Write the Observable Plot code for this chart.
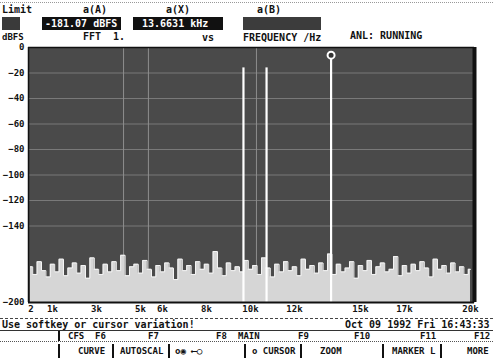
<!DOCTYPE html>
<html>
<head>
<meta charset="utf-8">
<script src="https://cdn.jsdelivr.net/npm/d3@7"></script>
<script src="https://cdn.jsdelivr.net/npm/@observablehq/plot@0.6"></script>
<style>
  html, body { margin: 0; padding: 0; background: #fff; }
  #wrap { position: relative; width: 493px; height: 362px; overflow: hidden; background: #fff;
          font-family: "DejaVu Sans Mono", monospace; font-weight: bold; font-size: 10px; color: #111; }
  .t { position: absolute; white-space: pre; line-height: 12px; }
  .s { font-size: 9px; }
  .box { position: absolute; height: 13px; line-height: 13px; color: #fff; white-space: pre; padding-left: 3px; box-sizing: border-box; }
  .hl { position: absolute; left: 0; width: 493px; height: 0; }
  .vb { position: absolute; width: 0; border-left: 2px solid #111; }
  #plot { position: absolute; left: 0; top: 40px; }
</style>
</head>
<body>
<div id="wrap">
  <div class="hl" style="top:2px;border-top:1px dotted #999;"></div>
  <div class="t" style="left:2px;top:4px;">Limit</div>
  <div class="t" style="left:83px;top:4px;">a(A)</div>
  <div class="t" style="left:166px;top:4px;">a(X)</div>
  <div class="t" style="left:257px;top:4px;">a(B)</div>
  <div class="box" style="left:2px;top:17px;width:18px;background:#3a3a3a;"></div>
  <div class="box" style="left:42px;top:17px;width:79px;background:#111;">-181.07 dBFS</div>
  <div class="box" style="left:133px;top:17px;width:90px;background:#111;"> 13.6631 kHz</div>
  <div class="box" style="left:243px;top:17px;width:78px;background:#3c3c3c;"></div>
  <div class="t s" style="left:2px;top:31px;">dBFS</div>
  <div class="t" style="left:83px;top:31px;">FFT  1.</div>
  <div class="t" style="left:202px;top:32px;">vs</div>
  <div class="t" style="left:243px;top:32px;">FREQUENCY /Hz</div>
  <div class="t" style="left:350px;top:30px;">ANL: RUNNING</div>

  <div id="plot"></div>

  <div class="hl" style="top:318px;border-top:1px dashed #444;"></div>
  <div class="t" style="left:2px;top:319px;">Use softkey or cursor variation!</div>
  <div class="t" style="left:345px;top:319px;">Oct 09 1992 Fri 16:43:33</div>
  <div class="hl" style="top:330px;border-top:1px solid #333;"></div>
  <div class="vb" style="left:58px;top:331px;height:10px;"></div>
  <div class="t s" style="left:68px;top:330px;">CFS  F6</div>
  <div class="t s" style="left:148px;top:330px;">F7</div>
  <div class="t s" style="left:216px;top:330px;">F8</div>
  <div class="t s" style="left:238px;top:330px;">MAIN</div>
  <div class="t s" style="left:298px;top:330px;">F9</div>
  <div class="t s" style="left:354px;top:330px;">F10</div>
  <div class="t s" style="left:420px;top:330px;">F11</div>
  <div class="t s" style="left:474px;top:330px;">F12</div>
  <div class="hl" style="top:341px;border-top:1px dotted #555;"></div>
  <div class="vb" style="left:58px;top:344px;height:14px;"></div>
  <div class="vb" style="left:112px;top:344px;height:14px;"></div>
  <div class="vb" style="left:168px;top:344px;height:14px;"></div>
  <div class="vb" style="left:244px;top:344px;height:14px;"></div>
  <div class="vb" style="left:300px;top:344px;height:14px;"></div>
  <div class="vb" style="left:382px;top:344px;height:14px;"></div>
  <div class="vb" style="left:440px;top:344px;height:14px;"></div>
  <div class="t s" style="left:78px;top:345px;">CURVE</div>
  <div class="t s" style="left:120px;top:345px;">AUTOSCAL</div>
  <div class="t s" style="left:175px;top:345px;">o◉ ⟵○</div>
  <div class="t s" style="left:252px;top:345px;">o CURSOR</div>
  <div class="t s" style="left:320px;top:345px;">ZOOM</div>
  <div class="t s" style="left:392px;top:345px;">MARKER L</div>
  <div class="t s" style="left:467px;top:345px;">MORE</div>
</div>
<script>
// ---- data ----
const xTickValues = [20, 1000, 3000, 5000, 6000, 8000, 10000, 12000, 15000, 17000, 20000];
const xTickLabels = ["2", "1k", "3k", "5k", "6k", "8k", "10k", "12k", "15k", "17k", "20k"];
const yTickValues = [0, -20, -40, -60, -80, -100, -120, -140, -200];

// FFT bin spacing of the noise-floor trace (Hz)
const binWidth = 200;
// noise floor envelope, dBFS, one value per bin from 0 Hz
const noiseFloor = [
  -172,-178,-168,-175,-180,-170,-176,-166,-179,-173,
  -169,-177,-171,-181,-165,-174,-178,-170,-176,-168,
  -175,-163,-179,-172,-170,-177,-167,-174,-180,-171,
  -176,-169,-173,-182,-166,-175,-171,-178,-168,-174,
  -170,-177,-160,-173,-179,-169,-175,-172,-176,-167,
  -174,-171,-178,-165,-173,-180,-170,-176,-168,-175,
  -172,-179,-166,-174,-171,-177,-169,-175,-162,-178,
  -170,-176,-173,-168,-181,-171,-175,-167,-178,-172,
  -169,-176,-174,-164,-179,-171,-177,-170,-175,-168,
  -173,-180,-166,-174,-171,-177,-169,-176,-172,-178,-174
];

// tone peaks
const peakFreqs = [9680, 10730, 13663];
const peakLevels = [-16, -16, -6];

// cursor lines
const cursorFreqs = [4230, 5360, 10270];

// marker X
const markerFreq = 13663;
const markerLevel = -6;

// ---- build ----
const labelMap = new Map(xTickValues.map((v, i) => [v, xTickLabels[i]]));
const noise = noiseFloor.map((v, i) => ({f: i * binWidth, db: v}));
const peaks = peakFreqs.map((f, i) => ({f, db: peakLevels[i]}));

const chart = Plot.plot({
  width: 493,
  height: 280,
  marginLeft: 28,
  marginRight: 19,
  marginTop: 7,
  marginBottom: 18,
  style: {fontFamily: "DejaVu Sans Mono, monospace", fontSize: "9px", fontWeight: "bold", color: "#111", background: "transparent"},
  x: {type: "linear", domain: [-91, 20182], ticks: xTickValues, tickFormat: d => labelMap.get(d), tickSize: 0, tickPadding: 3, label: null},
  y: {domain: [-200, 0], ticks: yTickValues, tickSize: 0, tickPadding: 4, label: null},
  marks: [
    Plot.frame({fill: "#4a4a4a", stroke: "none"}),
    Plot.gridY(yTickValues, {stroke: "#a0a0a0", strokeOpacity: 0.55}),
    Plot.ruleX(cursorFreqs, {stroke: "#8e8e8e", strokeWidth: 1}),
    Plot.areaY(noise, {x: "f", y1: -200, y2: "db", fill: "#d6d6d6", curve: "step"}),
    Plot.lineY(noise, {x: "f", y: "db", stroke: "#f4f4f4", strokeWidth: 1, curve: "step"}),
    Plot.ruleX(peaks, {x: "f", y1: -200, y2: "db", stroke: "#fff", strokeWidth: 2.2}),
    Plot.dot([{f: markerFreq, db: markerLevel}], {x: "f", y: "db", r: 3.5, stroke: "#fff", strokeWidth: 2, fill: "#333"}),
    Plot.ruleY([-200], {stroke: "#111", strokeWidth: 2}),
    Plot.ruleY([0], {stroke: "#111", strokeWidth: 1.5}),
    Plot.ruleX([-91], {stroke: "#111", strokeWidth: 1.5}),
    Plot.ruleX([20182], {stroke: "#111", strokeWidth: 4})
  ]
});
document.getElementById("plot").appendChild(chart);
</script>
</body>
</html>
